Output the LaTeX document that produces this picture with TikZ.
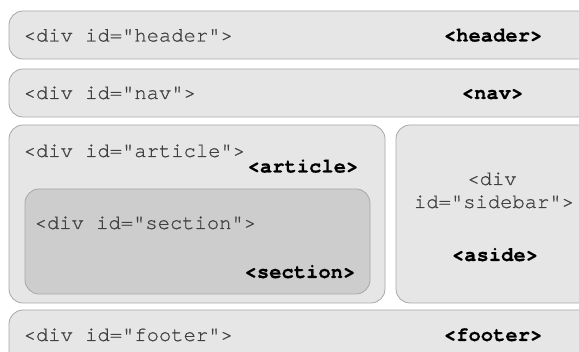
\documentclass[tikz,border=0pt]{standalone}
\usepackage{fontspec}
\setmonofont{TeX Gyre Cursor}
\newfontfamily\divfont{TeX Gyre Cursor}[FakeBold=0.7]
\newfontfamily\tagfont{TeX Gyre Cursor Bold}[FakeBold=0.4]
\definecolor{boxfill}{HTML}{E6E6E6}
\definecolor{secfill}{HTML}{CDCDCD}
\definecolor{boxline}{HTML}{A8A8A8}
\definecolor{divtext}{HTML}{404040}
\tikzset{
  box/.style={draw=boxline, fill=boxfill, line width=0.8pt, rounded corners=14pt},
  secbox/.style={draw=boxline, fill=secfill, line width=0.8pt, rounded corners=14pt},
  divlabel/.style={inner sep=0pt, text=divtext, font=\divfont\fontsize{20.5}{23}\selectfont},
  taglabel/.style={inner sep=0pt, text=black, font=\tagfont\fontsize{20.5}{23}\selectfont},
}
\begin{document}
\begin{tikzpicture}[x=1pt,y=-1pt]
\useasboundingbox (0,0) rectangle (579,352);
\clip (0,0) rectangle (579,352);
\fill[white] (0,0) rectangle (579,352);
% boxes
\draw[box] (9,11) rectangle (600,59);
\draw[box] (9,69) rectangle (600,117);
\draw[box] (9,125) rectangle (385,303);
\draw[secbox] (25,189) rectangle (370,294);
\draw[box] (396,125) rectangle (600,303);
\draw[box] (9,310) rectangle (600,370);
% texts
\node[divlabel, anchor=base west] (hdiv) at (23.5,41.5) {<div id="header">};
\node[taglabel, anchor=base east] (htag) at (542.5,41.5) {<header>};
\node[divlabel, anchor=base west] (ndiv) at (23.5,99) {<div id="nav">};
\node[taglabel, anchor=base east] (ntag) at (523.5,99) {<nav>};
\node[divlabel, anchor=base west] (adiv) at (23.5,157) {<div id="article">};
\node[taglabel, anchor=base east] (atag) at (358.5,172.5) {<article>};
\node[divlabel, anchor=base west] (sdiv) at (34.5,229) {<div id="section">};
\node[taglabel, anchor=base east] (stag) at (355.5,278) {<section>};
\node[divlabel, anchor=base] (sb1) at (492,185) {<div};
\node[divlabel, anchor=base] (sb2) at (494,208) {id="sidebar">};
\node[taglabel, anchor=base] (asd) at (495,261) {<aside>};
\node[divlabel, anchor=base west] (fdiv) at (23.5,341) {<div id="footer">};
\node[taglabel, anchor=base east] (ftag) at (542.5,341) {<footer>};
\end{tikzpicture}
\end{document}
